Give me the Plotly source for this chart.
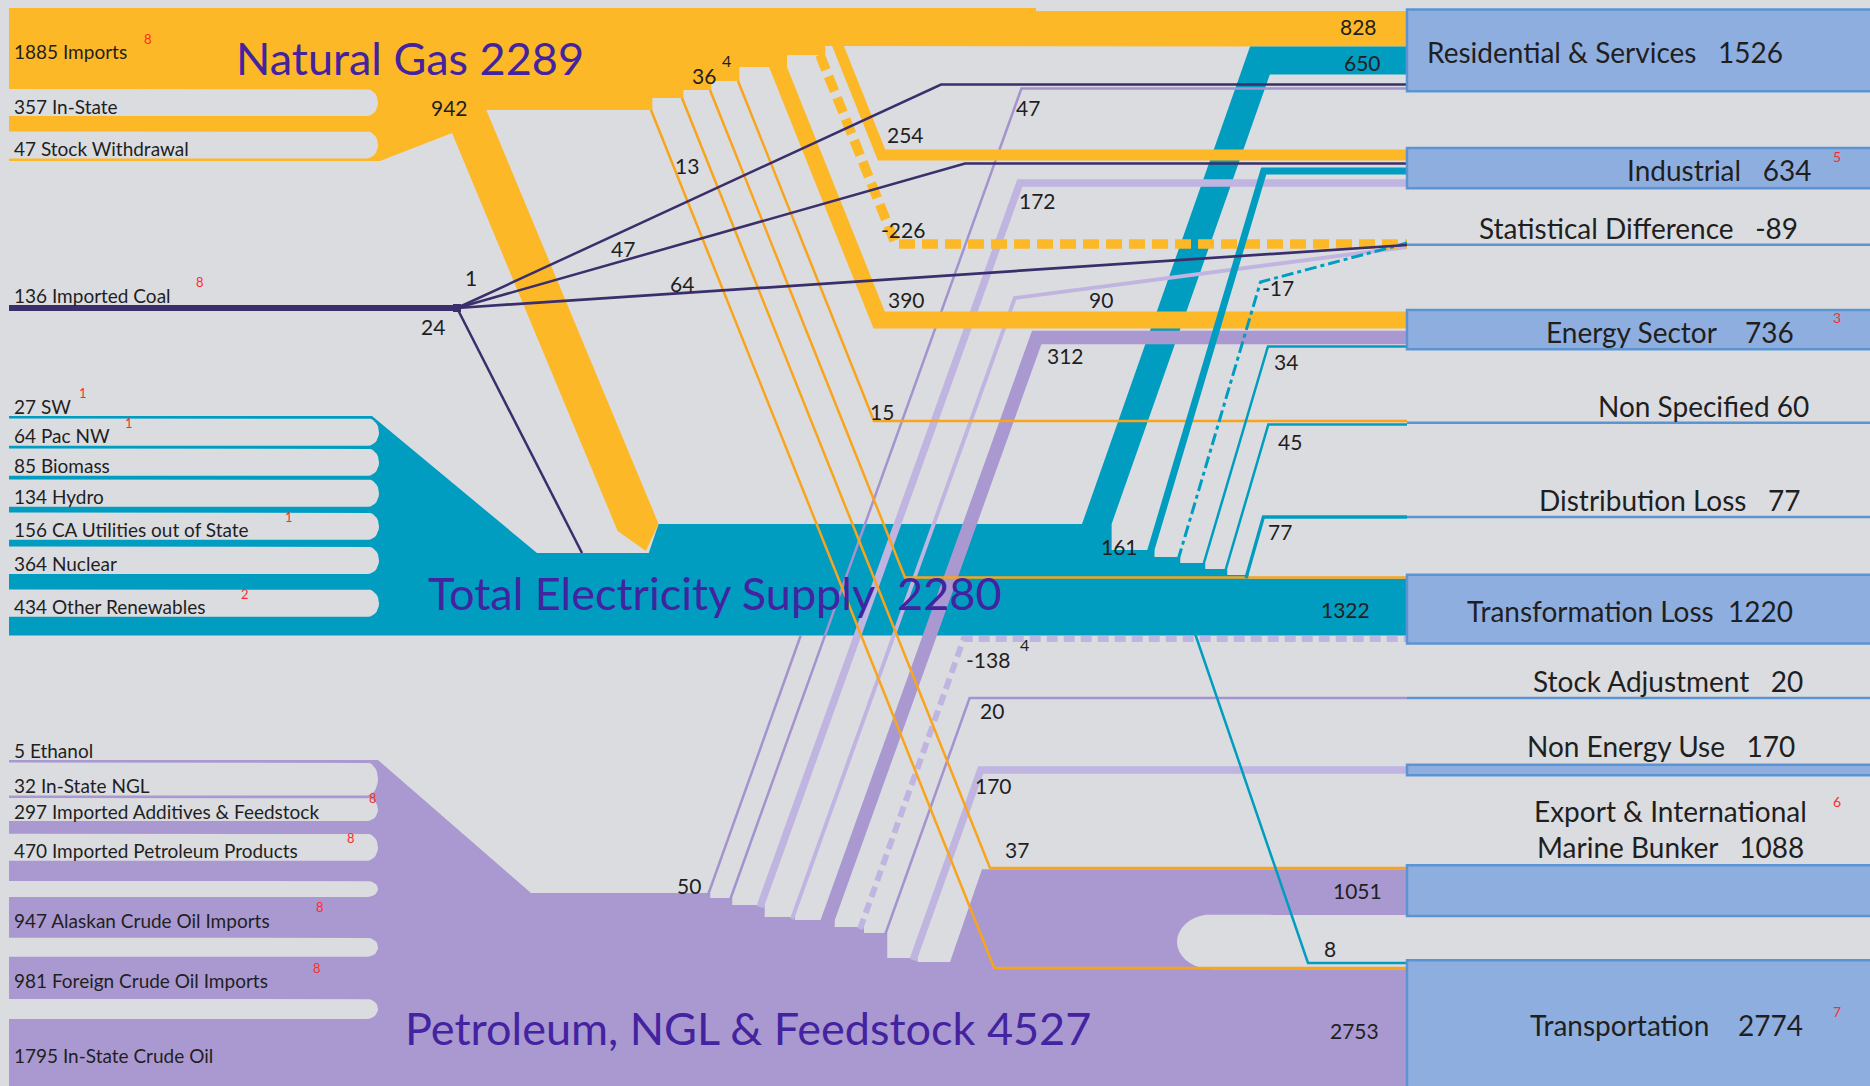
import math
import plotly.graph_objects as go

# ======================= DATA =======================
gas_sources = ["Imports", "In-State", "Stock Withdrawal"]
gas_source_values = [1885, 357, 47]
gas_source_notes = ["8", "", ""]

coal_sources = ["Imported Coal"]
coal_source_values = [136]
coal_source_notes = ["8"]

elec_sources = ["SW", "Pac NW", "Biomass", "Hydro", "CA Utilities out of State", "Nuclear", "Other Renewables"]
elec_source_values = [27, 64, 85, 134, 156, 364, 434]
elec_source_notes = ["1", "1", "", "", "1", "", "2"]

pet_sources = ["Ethanol", "In-State NGL", "Imported Additives & Feedstock", "Imported Petroleum Products",
               "Alaskan Crude Oil Imports", "Foreign Crude Oil Imports", "In-State Crude Oil"]
pet_source_values = [5, 32, 297, 470, 947, 981, 1795]
pet_source_notes = ["", "", "8", "8", "8", "8", ""]

hub_names = ["Natural Gas", "Total Electricity Supply", "Petroleum, NGL & Feedstock"]
hub_totals = [2289, 2280, 4527]

sector_names = ["Residential & Services", "Industrial", "Statistical Difference", "Energy Sector", "Non Specified",
                "Distribution Loss", "Transformation Loss", "Stock Adjustment", "Non Energy Use",
                "Export & International Marine Bunker", "Transportation"]
sector_values = [1526, 634, -89, 736, 60, 77, 1220, 20, 170, 1088, 2774]
sector_notes = ["", "5", "", "3", "", "", "", "", "", "6", "7"]

gas_link_targets = ["Residential & Services", "Total Electricity Supply", "Industrial", "Statistical Difference",
                    "Energy Sector", "Non Specified", "Transformation Loss",
                    "Export & International Marine Bunker", "Transportation"]
gas_link_values = [828, 942, 254, -226, 390, 15, 36, 37, 13]
gas_link_notes = ["", "", "", "", "", "", "4", "", ""]

coal_link_targets = ["Residential & Services", "Industrial", "Statistical Difference", "Total Electricity Supply"]
coal_link_values = [1, 47, 64, 24]

elec_link_targets = ["Residential & Services", "Industrial", "Statistical Difference", "Energy Sector",
                     "Non Specified", "Distribution Loss", "Transformation Loss", "Transportation"]
elec_link_values = [650, 161, -17, 34, 45, 77, 1322, 8]

pet_link_targets = ["Total Electricity Supply", "Residential & Services", "Industrial", "Statistical Difference",
                    "Energy Sector", "Transformation Loss", "Stock Adjustment", "Non Energy Use",
                    "Export & International Marine Bunker", "Transportation"]
pet_link_values = [50, 47, 172, 90, 312, -138, 20, 170, 1051, 2753]
pet_link_notes = ["", "", "", "", "", "4", "", "", "", ""]

# ======================= LAYOUT / STYLE =======================
W, H = 1870, 1086
K = 0.043          # px per unit of flow
MIN_T = 2.5        # thinnest drawn flow
X0, XR, XM = 9, 1407, 1885
NOTCH_X = 379

BG = "#DBDCE0"
GAS = "#FDB827"
GAS_LN = "#F8A41C"
ELEC = "#009DC1"
PET = "#AA99D0"
PET_MID = "#A393CE"
PET_LT = "#C0B4E0"
COAL = "#3A2E6B"
BOX = "#8FAEE0"
BOX_EDGE = "#5B93D3"
TITLE_C = "#43239F"
TXT = "#1F1F1F"
RED = "#FF2B2B"
FONT = "Lato, 'Open Sans', sans-serif"
DEST_SIZE = 28


def th(v):
    return max(MIN_T, K * abs(v))


traces = []
ann = []
tgt = {n: [] for n in sector_names}


def poly(pts, color):
    xs = [p[0] for p in pts] + [pts[0][0]]
    ys = [p[1] for p in pts] + [pts[0][1]]
    traces.append(go.Scatter(x=xs, y=ys, mode="lines", fill="toself", fillcolor=color,
                             line=dict(width=0, color=color), hoverinfo="skip"))


def path(pts, color, width, dash=None):
    traces.append(go.Scatter(x=[p[0] for p in pts], y=[p[1] for p in pts], mode="lines",
                             line=dict(color=color, width=width, dash=dash), hoverinfo="skip"))


def text(x, y, s, size, color=TXT, anchor="left"):
    ann.append(dict(x=x, y=y, xref="x", yref="y", text=s, showarrow=False, xanchor=anchor,
                    yanchor="middle", font=dict(family=FONT, size=size, color=color)))


def stack(top, values, gaps):
    spans, y = [], top
    for i, v in enumerate(values):
        t = th(v)
        spans.append((y, y + t))
        y += t + (gaps[i] if i < len(gaps) else 0)
    return spans


def notch_left(y0, y1, xe, r=11, n=14):
    ym, ry = (y0 + y1) / 2, (y1 - y0) / 2
    pts = [(-10, y0), (xe - r, y0)]
    for k in range(n + 1):
        a = -math.pi / 2 + math.pi * k / n
        pts.append((xe - r + r * math.cos(a), ym + ry * math.sin(a)))
    pts.append((-10, y1))
    poly(pts, BG)


def notch_right(y0, y1, xs, r=35, n=18):
    ym, ry = (y0 + y1) / 2, (y1 - y0) / 2
    pts = [(XM, y0), (xs + r, y0)]
    for k in range(n + 1):
        a = -math.pi / 2 - math.pi * k / n
        pts.append((xs + r + r * math.cos(a), ym + ry * math.sin(a)))
    pts.append((XM, y1))
    poly(pts, BG)


def gv(targets, values, name):
    return values[targets.index(name)]


# ---------- stacks of sources ----------
gas_spans = stack(8, gas_source_values, [27, 27])
gas_bot = gas_spans[-1][1]
elec_spans = stack(416, elec_source_values, [27.3] * 6)
e_top, e_bot = elec_spans[0][0], elec_spans[-1][1]
e_band_top = e_bot - th(gv(elec_link_targets, elec_link_values, "Transformation Loss"))
pet_spans = stack(760, pet_source_values, [33, 23, 27, 16, 19, 20])

# ---------- gas geometry ----------
RES_TOP = 11
res_gas = (RES_TOP, RES_TOP + th(gv(gas_link_targets, gas_link_values, "Residential & Services")))
res_elec = (res_gas[1], res_gas[1] + th(gv(elec_link_targets, elec_link_values, "Residential & Services")))
tl_gas_y = e_band_top - th(gv(gas_link_targets, gas_link_values, "Transformation Loss")) / 2

GAS_SLOPE = 0.40
gas_streak = {  # start x, start y, horizontal centre y, colour, dash
    "Industrial": (838, 46, 155, GAS, None),
    "Statistical Difference": (820, 55, 244, GAS, "16px,7px"),
    "Energy Sector": (778, 67, 320, GAS, None),
    "Non Specified": (738, 81, 421, GAS_LN, None),
    "Transformation Loss": (710, 90, tl_gas_y, GAS_LN, None),
    "Export & International Marine Bunker": (682, 98, 868, GAS_LN, None),
    "Transportation": (651, 110, 968, GAS_LN, None),
}

# 942 band centre line
B942_X, B942_Y, B942_S = 474, 133, 0.416
def c942(y):
    return B942_X + B942_S * (y - B942_Y)
hw942 = th(gv(gas_link_targets, gas_link_values, "Total Electricity Supply")) / 2 / math.cos(math.atan(B942_S))

# ---------- electricity geometry ----------
DIAG_X0, DIAG_Y0, DIAG_S = 1082, 524, 0.352
w650 = th(gv(elec_link_targets, elec_link_values, "Residential & Services")) / math.cos(math.atan(DIAG_S))
ELEC_SLOPE = 0.30
elec_streak = {
    "Industrial": (1150, 550, 171, None),
    "Statistical Difference": (1178, 557, 282, "12px,4px,4px,4px"),
    "Energy Sector": (1203, 563, 346.5, None),
    "Non Specified": (1225, 569, 424.5, None),
    "Distribution Loss": (1246, 575, 517, None),
}
STAT_Y = {"gas": 244, "coal": 245, "elec": 243, "pet": 247}

# ---------- petroleum geometry ----------
PET_SLOPE = 0.36
pet_streak = {
    "Total Electricity Supply": (708, 893, e_bot, PET_MID, None),
    "Residential & Services": (730, 898, 88.5, PET_MID, None),
    "Industrial": (760, 905, 183, PET_LT, None),
    "Statistical Difference": (792, 917, 298, PET_LT, None),
    "Energy Sector": (827, 920, 337.5, PET, None),
    "Transformation Loss": (860, 927, e_bot + 3.5, PET_LT, "11px,6px"),
    "Stock Adjustment": (885, 933, 698, PET_MID, None),
    "Non Energy Use": (913, 958, 770, PET_LT, None),
}
exp_top = 868 + th(gv(gas_link_targets, gas_link_values, "Export & International Marine Bunker")) / 2
exp_bot = exp_top + th(gv(pet_link_targets, pet_link_values, "Export & International Marine Bunker"))
trans_top = 968 + th(gv(gas_link_targets, gas_link_values, "Transportation")) / 2
trans_bot = trans_top + th(gv(pet_link_targets, pet_link_values, "Transportation"))

coal_y = 308
J = (457, coal_y)
coal_geo = {"Residential & Services": (941, 84.5), "Industrial": (965, 163.5),
            "Statistical Difference": (None, STAT_Y["coal"]), "Total Electricity Supply": (582, 553)}

# ======================= DRAW =======================
# --- electricity block
e_pts = [(X0, e_top), (372, e_top), (537, 553), (c942(553), 553), (c942(524) + hw942, 524),
         (DIAG_X0, DIAG_Y0), (DIAG_X0 + w650, DIAG_Y0), (DIAG_X0 + w650, 550)]
es = sorted(elec_streak.items(), key=lambda kv: kv[1][0])
for i, (name, (xs, ys, yt, dash)) in enumerate(es):
    hw = th(gv(elec_link_targets, elec_link_values, name)) / 2 + 1
    nxt = es[i + 1][1][1] if i + 1 < len(es) else e_band_top
    e_pts += [(xs - hw, ys), (xs + hw, ys), (xs + hw, nxt)]
e_pts += [(XR, e_band_top), (XR, e_bot), (X0, e_bot)]
poly(e_pts, ELEC)
tgt["Transformation Loss"].append((e_band_top, e_bot))

# --- petroleum block
p_pts = [(X0, pet_spans[0][0]), (378, pet_spans[0][0]), (531, 893)]
ps = sorted(pet_streak.items(), key=lambda kv: kv[1][0])
for i, (name, (xs, ys, yt, col, dash)) in enumerate(ps):
    hw = th(gv(pet_link_targets, pet_link_values, name)) / 2 + 1
    nxt = ps[i + 1][1][1] if i + 1 < len(ps) else 962
    p_pts += [(xs - hw, ys), (xs + hw, ys), (xs + hw, nxt)]
p_pts += [(950, 962), (982, exp_top), (XR, exp_top), (XR, 1110), (X0, 1110)]
poly(p_pts, PET)
tgt["Export & International Marine Bunker"].append((exp_top, exp_bot))
tgt["Transportation"].append((trans_top, trans_bot))

# --- gas block
g_pts = [(X0, 8), (1036, 8), (1036, RES_TOP), (XR, RES_TOP), (XR, res_gas[1])]
gs = sorted(gas_streak.items(), key=lambda kv: -kv[1][0])
lvl = res_gas[1]
for name, (xs, ys, yt, col, dash) in gs:
    hw = th(gv(gas_link_targets, gas_link_values, name)) / 2 * 1.08
    g_pts += [(xs + hw, lvl), (xs + hw, ys), (xs - hw, ys)]
    lvl = ys
g_pts += [(c942(lvl), lvl), (c942(B942_Y) - hw942, B942_Y), (380, gas_bot), (X0, gas_bot)]
poly(g_pts, GAS)
tgt["Residential & Services"].append(res_gas)

# --- notches between source bands
for spans, xe in ((gas_spans, 378), (elec_spans, NOTCH_X), (pet_spans, 378)):
    for a, b in zip(spans[:-1], spans[1:]):
        notch_left(a[1], b[0], xe)
notch_right(exp_bot, trans_top, 1177)

# --- gas -> electricity band (942)
poly([(c942(104) - hw942, 104), (c942(104) + hw942, 104), (c942(524) + hw942, 524),
      (c942(551) - 2, 551), (c942(531) - hw942, 531)], GAS)

# --- electricity -> residential band (650)
yb = res_elec[1]
poly([(DIAG_X0, DIAG_Y0), (DIAG_X0 + w650, DIAG_Y0),
      (DIAG_X0 + w650 + DIAG_S * (DIAG_Y0 - yb), yb), (XR, yb), (XR, res_elec[0]),
      (DIAG_X0 + DIAG_S * (DIAG_Y0 - res_elec[0]), res_elec[0])], ELEC)
tgt["Residential & Services"].append(res_elec)

# --- petroleum links
for name, (xs, ys, yt, col, dash) in pet_streak.items():
    t = th(gv(pet_link_targets, pet_link_values, name))
    xb = xs + PET_SLOPE * (ys - yt)
    if name == "Total Electricity Supply":
        pts = [(xs, ys + 2), (xb, yt)]
    elif name == "Statistical Difference":
        pts = [(xs, ys + 2), (xb, yt), (XR, STAT_Y["pet"])]
        tgt[name].append((STAT_Y["pet"] - t / 2, STAT_Y["pet"] + t / 2))
    else:
        pts = [(xs, ys + 2), (xb, yt), (XR, yt)]
        tgt[name].append((yt - t / 2, yt + t / 2))
    path(pts, col, t, dash)

# --- gas links
for name, (xs, ys, yt, col, dash) in gas_streak.items():
    t = th(gv(gas_link_targets, gas_link_values, name))
    xb = xs + GAS_SLOPE * (yt - ys)
    up = 4 if col == GAS and dash is None else 0
    path([(xs - GAS_SLOPE * up, ys - up), (xb, yt), (XR, yt)], col, t, dash)
    tgt[name].append((yt - t / 2, yt + t / 2))

# --- electricity thin links
for name, (xs, ys, yt, dash) in elec_streak.items():
    t = th(gv(elec_link_targets, elec_link_values, name))
    xb = xs + ELEC_SLOPE * (ys - yt)
    if name == "Statistical Difference":
        pts = [(xs, ys + 3), (xb, yt), (XR, STAT_Y["elec"])]
        tgt[name].append((STAT_Y["elec"] - t / 2, STAT_Y["elec"] + t / 2))
    else:
        pts = [(xs, ys + 3), (xb, yt), (XR, yt)]
        tgt[name].append((yt - t / 2, yt + t / 2))
    path(pts, ELEC, max(t, 3) if dash else t, dash)
t8 = th(gv(elec_link_targets, elec_link_values, "Transportation"))
path([(1195, e_bot - 2), (1195 + 0.345 * (963 - e_bot), 963), (XR, 963)], ELEC, t8)
tgt["Transportation"].append((963 - t8 / 2, 963 + t8 / 2))

# --- coal
path([(X0, coal_y), J], COAL, th(coal_source_values[0]))
for name, v in zip(coal_link_targets, coal_link_values):
    xb, yt = coal_geo[name]
    t = th(v)
    if name == "Total Electricity Supply":
        path([J, (xb, yt)], COAL, t)
    elif xb is None:
        path([J, (XR, yt)], COAL, t)
        tgt[name].append((yt - t / 2, yt + t / 2))
    else:
        path([J, (xb, yt), (XR, yt)], COAL, t)
        tgt[name].append((yt - t / 2, yt + t / 2))
poly([(J[0] - 4, J[1] - 4), (J[0] + 4, J[1] - 4), (J[0] + 4, J[1] + 4), (J[0] - 4, J[1] + 4)], COAL)

# --- destination boxes / lines
box_kind = {"Residential & Services": "in", "Industrial": "in", "Statistical Difference": "line",
            "Energy Sector": "in", "Non Specified": "line", "Distribution Loss": "line",
            "Transformation Loss": "in", "Stock Adjustment": "line", "Non Energy Use": "box",
            "Export & International Marine Bunker": "box2", "Transportation": "in"}
label_right = {"Residential & Services": 1785, "Industrial": 1813, "Statistical Difference": 1800,
               "Energy Sector": 1796, "Non Specified": 1811, "Distribution Loss": 1802,
               "Transformation Loss": 1795, "Stock Adjustment": 1805, "Non Energy Use": 1797,
               "Export & International Marine Bunker": 1670, "Transportation": 1805}
label_gap = {"Residential & Services": 3, "Industrial": 3, "Statistical Difference": 3, "Energy Sector": 4,
             "Non Specified": 1, "Distribution Loss": 3, "Transformation Loss": 2, "Stock Adjustment": 3,
             "Non Energy Use": 3, "Export & International Marine Bunker": 3, "Transportation": 4}
NB = "\u00a0"
for name, val, note in zip(sector_names, sector_values, sector_notes):
    spans = tgt[name]
    top = min(s[0] for s in spans) - 1.5
    bot = max(s[1] for s in spans) + 1.5
    kind = box_kind[name]
    lab = f"{name}{NB * label_gap[name]}{val}"
    if kind == "line":
        y = sum((s[0] + s[1]) / 2 for s in spans) / len(spans)
        path([(XR, y), (XM, y)], BOX_EDGE, 2.5)
        ly = y - 17
        text(label_right[name], ly, lab, DEST_SIZE, anchor="right")
    else:
        poly([(XR, top), (XM, top), (XM, bot), (XR, bot)], BOX)
        path([(XM, top), (XR, top), (XR, bot), (XM, bot)], BOX_EDGE, 2.5)
        if kind == "in":
            ly = (top + min(bot, H)) / 2 + 2
            text(label_right[name], ly, lab, DEST_SIZE, anchor="right")
        elif kind == "box":
            ly = top - 19
            text(label_right[name], ly, lab, DEST_SIZE, anchor="right")
        else:
            first, rest = name.split(" Marine ")
            ly = top - 54
            text(label_right[name], ly, first, DEST_SIZE, anchor="center")
            text(label_right[name], ly + 36, f"Marine {rest}{NB * label_gap[name]}{val}", DEST_SIZE,
                 anchor="center")
            ly = ly + 4
    if note:
        text(1837, ly - 14, note, 14, color=RED, anchor="center")

# ======================= TEXT =======================
def src_labels(spans, names, values, notes, note_x):
    for (a, b), n, v, nt, nx in zip(spans, names, values, notes, note_x):
        t = b - a
        y = (a + min(b, H)) / 2 + 3 if t > 30 else a - 10
        text(12, y, f"{v} {n}", 19)
        if nt:
            text(nx, y - 13, nt, 13, color=RED, anchor="center")

src_labels(gas_spans, gas_sources, gas_source_values, gas_source_notes, [148, 0, 0])
src_labels([(coal_y - 3, coal_y + 3)], coal_sources, coal_source_values, coal_source_notes, [200])
src_labels(elec_spans, elec_sources, elec_source_values, elec_source_notes, [83, 129, 0, 0, 289, 0, 245])
src_labels(pet_spans, pet_sources, pet_source_values, pet_source_notes, [0, 0, 373, 351, 320, 317, 0])

hub_pos = [(410, 58), (714, 593), (748, 1028)]
for (x, y), n, v in zip(hub_pos, hub_names, hub_totals):
    sep = NB * 2 if n.startswith("Total") else " "
    text(x, y, f"{n}{sep}{v}", 45, color=TITLE_C, anchor="center")

gas_lbl = {"Residential & Services": (1358, 26), "Total Electricity Supply": (449, 107), "Industrial": (905, 134),
           "Statistical Difference": (903, 229), "Energy Sector": (906, 299), "Non Specified": (882, 411),
           "Transformation Loss": (704, 75), "Export & International Marine Bunker": (1017, 849),
           "Transportation": (687, 165)}
coal_lbl = {"Residential & Services": (471, 277), "Industrial": (623, 248), "Statistical Difference": (682, 283),
            "Total Electricity Supply": (433, 326)}
elec_lbl = {"Residential & Services": (1362, 62), "Industrial": (1119, 546), "Statistical Difference": (1278, 287),
            "Energy Sector": (1286, 361), "Non Specified": (1290, 441), "Distribution Loss": (1280, 531),
            "Transformation Loss": (1345, 609), "Transportation": (1330, 948)}
pet_lbl = {"Total Electricity Supply": (689, 885), "Residential & Services": (1028, 107), "Industrial": (1037, 200),
           "Statistical Difference": (1101, 299), "Energy Sector": (1065, 355), "Transformation Loss": (988, 659),
           "Stock Adjustment": (992, 710), "Non Energy Use": (993, 785),
           "Export & International Marine Bunker": (1357, 890), "Transportation": (1354, 1030)}

def link_labels(targets, values, pos, notes=None):
    for i, (n, v) in enumerate(zip(targets, values)):
        x, y = pos[n]
        text(x, y, str(v), 21, anchor="center")
        if notes and notes[i]:
            sx = x + 7 * len(str(v)) + 8
            text(sx, y - 15, notes[i], 16, anchor="center")

link_labels(gas_link_targets, gas_link_values, gas_lbl, gas_link_notes)
link_labels(coal_link_targets, coal_link_values, coal_lbl)
link_labels(elec_link_targets, elec_link_values, elec_lbl)
link_labels(pet_link_targets, pet_link_values, pet_lbl, pet_link_notes)

fig = go.Figure(traces)
fig.update_layout(width=W, height=H, margin=dict(l=0, r=0, t=0, b=0), paper_bgcolor=BG, plot_bgcolor=BG,
                  showlegend=False, hovermode=False, annotations=ann,
                  xaxis=dict(range=[0, W], visible=False, fixedrange=True),
                  yaxis=dict(range=[H, 0], visible=False, fixedrange=True))
fig.write_html("out.html", include_plotlyjs=True, config={"displayModeBar": False, "staticPlot": True},
               post_script="document.body.style.margin='0';document.body.style.overflow='hidden';"
                           "document.body.style.background='#DBDCE0';")
